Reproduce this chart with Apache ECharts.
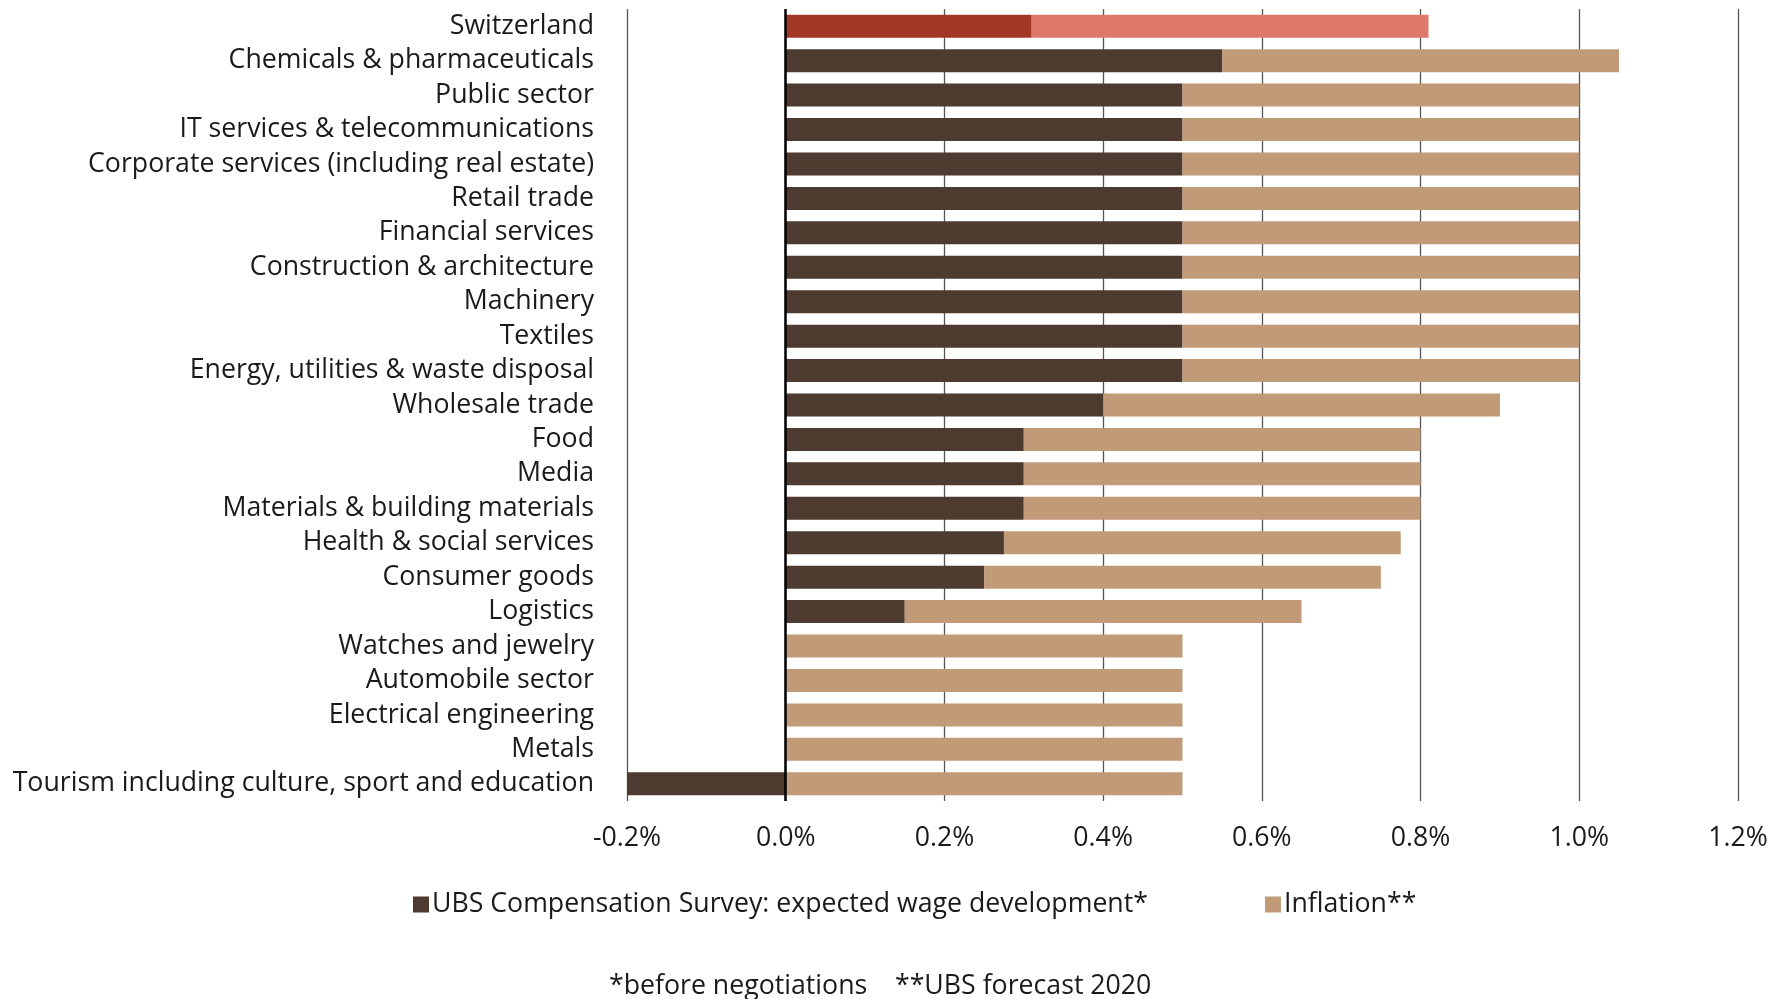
<!DOCTYPE html>
<html>
<head>
<meta charset="utf-8">
<script src="https://cdn.jsdelivr.net/npm/echarts@6/dist/echarts.min.js"></script>
<style>
  html, body { margin: 0; padding: 0; background: #fff; }
  #chart { width: 1787px; height: 999px; }
</style>
</head>
<body>
<div id="chart"></div>
<script>
// categories, top to bottom
const categories = [
  'Switzerland',
  'Chemicals & pharmaceuticals',
  'Public sector',
  'IT services & telecommunications',
  'Corporate services (including real estate)',
  'Retail trade',
  'Financial services',
  'Construction & architecture',
  'Machinery',
  'Textiles',
  'Energy, utilities & waste disposal',
  'Wholesale trade',
  'Food',
  'Media',
  'Materials & building materials',
  'Health & social services',
  'Consumer goods',
  'Logistics',
  'Watches and jewelry',
  'Automobile sector',
  'Electrical engineering',
  'Metals',
  'Tourism including culture, sport and education'
];

// expected wage development (%)
const wageValues = [0.31, 0.55, 0.5, 0.5, 0.5, 0.5, 0.5, 0.5, 0.5, 0.5, 0.5, 0.4,
  0.3, 0.3, 0.3, 0.275, 0.25, 0.15, 0, 0, 0, 0, -0.2];

// inflation forecast (%)
const inflationValues = [0.5, 0.5, 0.5, 0.5, 0.5, 0.5, 0.5, 0.5, 0.5, 0.5, 0.5, 0.5,
  0.5, 0.5, 0.5, 0.5, 0.5, 0.5, 0.5, 0.5, 0.5, 0.5, 0.5];

const xTicks = [-0.2, 0, 0.2, 0.4, 0.6, 0.8, 1.0, 1.2];

const wageColor = '#4e3b30';
const inflColor = '#c19a78';
const swissWage = '#a33726';
const swissInfl = '#df786a';
const fontFamily = '"Open Sans", "Noto Sans", sans-serif';
const fs = 26.7;

const chart = echarts.init(document.getElementById('chart'));

const option = {
  animation: false,
  textStyle: { fontFamily: fontFamily, color: '#1a1a1a' },
  grid: { left: 627, right: 49, top: 9, height: 792, containLabel: false },
  xAxis: {
    type: 'value',
    min: xTicks[0],
    max: xTicks[xTicks.length - 1],
    interval: 0.2,
    axisLine: { show: false },
    axisTick: { show: false },
    splitLine: { show: true, lineStyle: { color: '#555', width: 1.3 } },
    axisLabel: {
      fontSize: fs,
      color: '#1a1a1a',
      margin: 24,
      fontFamily: fontFamily,
      formatter: v => v.toFixed(1) + '%'
    }
  },
  yAxis: {
    type: 'category',
    data: categories,
    inverse: true,
    axisLine: { show: false },
    axisTick: { show: false },
    axisLabel: {
      interval: 0,
      hideOverlap: false,
      fontSize: fs,
      lineHeight: 30,
      color: '#1a1a1a',
      margin: 33,
      fontFamily: fontFamily
    }
  },
  legend: {
    left: 408,
    top: 886,
    itemWidth: 16,
    itemHeight: 16,
    itemGap: 117,
    icon: 'rect',
    textStyle: { fontSize: fs, color: '#1a1a1a', fontFamily: fontFamily, padding: [0, 0, 0, -2] },
    data: ['UBS Compensation Survey: expected wage development*', 'Inflation**']
  },
  title: {
    text: '*before negotiations    **UBS forecast 2020',
    left: 609,
    top: 973,
    padding: 0,
    textStyle: { fontSize: fs, fontWeight: 'normal', color: '#1a1a1a', fontFamily: fontFamily }
  },
  series: [
    {
      name: 'UBS Compensation Survey: expected wage development*',
      type: 'bar',
      stack: 'total',
      barWidth: 23,
      itemStyle: { color: wageColor },
      data: wageValues.map((v, i) => i === 0 ? { value: v, itemStyle: { color: swissWage } } : v),
      markLine: {
        silent: true,
        symbol: 'none',
        label: { show: false },
        lineStyle: { color: '#000', width: 2.5, type: 'solid' },
        data: [{ xAxis: 0 }],
        z: 10
      }
    },
    {
      name: 'Inflation**',
      type: 'bar',
      stack: 'total',
      barWidth: 23,
      itemStyle: { color: inflColor },
      data: inflationValues.map((v, i) => i === 0 ? { value: v, itemStyle: { color: swissInfl } } : v)
    }
  ]
};

chart.setOption(option);
</script>
</body>
</html>
